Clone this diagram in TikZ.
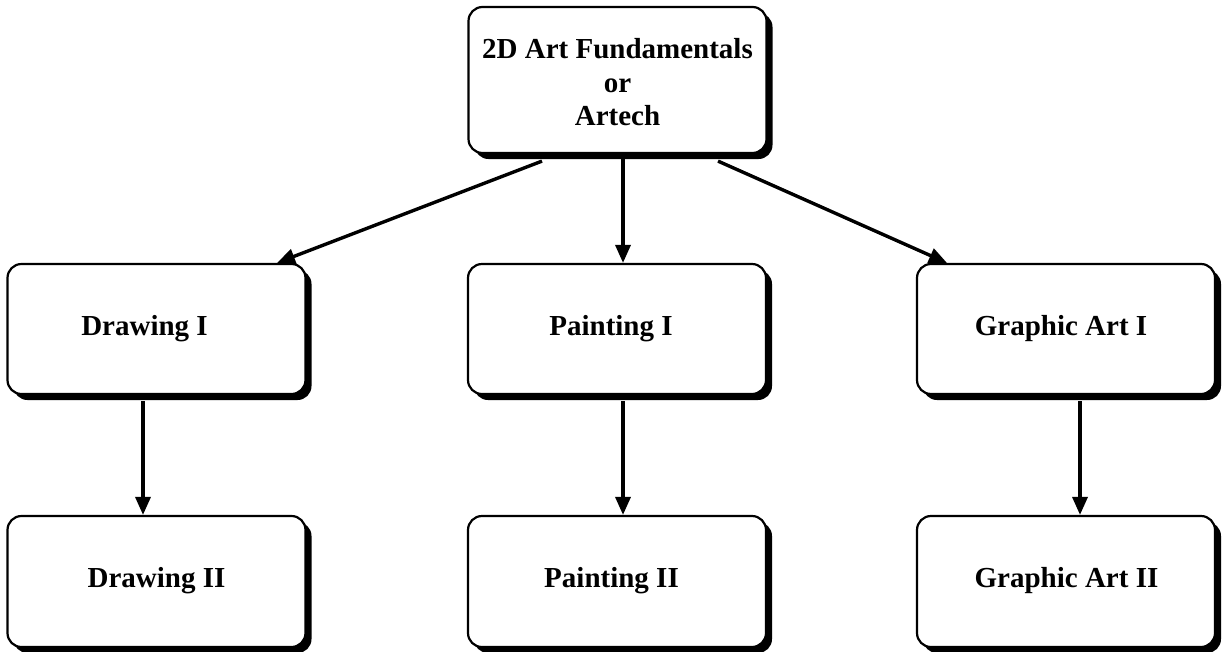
\documentclass[tikz,border=0pt]{standalone}
\usepackage{fontspec}
\setmainfont{Liberation Serif}
\usetikzlibrary{shadows,arrows.meta}
\tikzset{
  box/.style={draw=black, line width=2.2pt, fill=white, rounded corners=14pt,
    minimum width=298pt, minimum height=130pt, inner sep=0pt,
    drop shadow={shadow xshift=6pt, shadow yshift=-6pt, fill=black, opacity=1}},
  lbl/.style={font=\fontsize{29}{33.5}\selectfont\bfseries, inner sep=0pt, align=center},
  arr/.style={line width=3.4pt, -{Triangle[length=18pt,width=15pt]}}
}
\begin{document}
\begin{tikzpicture}[x=1pt,y=-1pt]
\useasboundingbox (0,0) rectangle (1225,651);
\node[box, minimum height=146pt] (top) at (617.5,80) {};
\node[box] (D1) at (156.5,329) {};
\node[box] (P1) at (617,329) {};
\node[box] (G1) at (1066,329) {};
\node[box, minimum height=131pt] (D2) at (156.5,581.5) {};
\node[box, minimum height=131pt] (P2) at (617,581.5) {};
\node[box, minimum height=131pt] (G2) at (1066,581.5) {};
\node[lbl] (ttop) at (617.5,82.5) {2D Art Fundamentals\\or\\Artech};
\node[lbl, anchor=base] (tD1) at (144.5,335) {Drawing I};
\node[lbl, anchor=base] (tP1) at (611,335) {Painting I};
\node[lbl, anchor=base] (tG1) at (1061,335) {Graphic Art I};
\node[lbl, anchor=base] (tD2) at (156.5,587) {Drawing II};
\node[lbl, anchor=base] (tP2) at (611.5,587) {Painting II};
\node[lbl, anchor=base] (tG2) at (1066.5,587) {Graphic Art II};
\draw[arr] ([xshift=-75.5pt,yshift=-7pt]top.south) -- ([xshift=120.5pt]D1.north);
\draw[arr] ([xshift=5.5pt]top.south) -- ([xshift=6pt]P1.north);
\draw[arr] ([xshift=100.5pt,yshift=-7pt]top.south) -- ([xshift=-119pt]G1.north);
\draw[arr] ([xshift=-13.5pt,yshift=-6pt]D1.south) -- ([xshift=-13.5pt]D2.north);
\draw[arr] ([xshift=6pt,yshift=-6pt]P1.south) -- ([xshift=6pt]P2.north);
\draw[arr] ([xshift=14pt,yshift=-6pt]G1.south) -- ([xshift=14pt]G2.north);
\end{tikzpicture}
\end{document}
